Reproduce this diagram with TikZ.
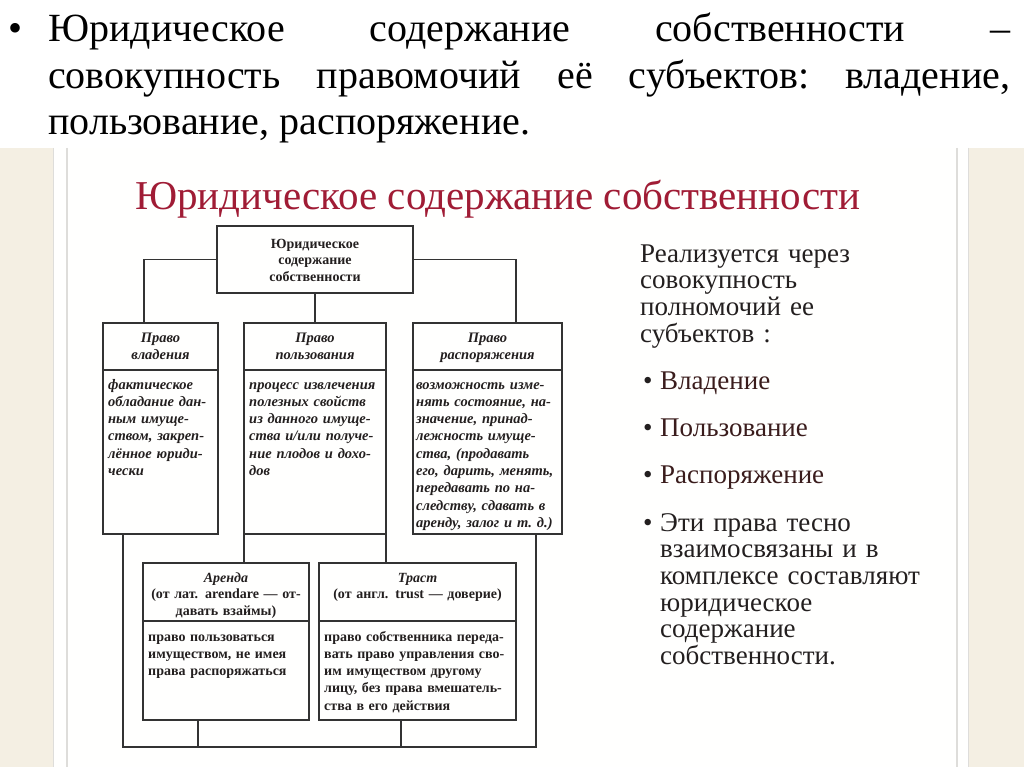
\documentclass[tikz,border=0pt]{standalone}
\usepackage{fontspec}
\setmainfont{Liberation Serif}
\definecolor{titlered}{HTML}{A01C35}
\definecolor{beige}{HTML}{F4EFE3}
\definecolor{grayline}{HTML}{DEDDDA}
\definecolor{linec}{HTML}{333333}
\definecolor{darktext}{HTML}{231F1F}
\definecolor{browntext}{HTML}{3A1C1C}
\tikzset{
  frame/.style={draw=linec, line width=1.3pt, inner sep=0pt, outer sep=0pt, anchor=north west},
  conn/.style={draw=linec, line width=1.3pt},
  toptext/.style={text width=190pt, align=center, anchor=base, inner sep=0pt, text=darktext,
     font=\bfseries\fontsize{14}{16.5}\selectfont},
  hdrtext/.style={text width=#1, align=center, anchor=base, inner sep=0pt, text=darktext,
     font=\bfseries\itshape\fontsize{14.5}{17}\selectfont},
  bodyit/.style={text width=170pt, align=left, anchor=base west, inner sep=0pt, text=darktext,
     font=\bfseries\itshape\fontsize{14.5}{17.3}\selectfont},
  hdrup/.style={text width=#1, align=center, anchor=base, inner sep=0pt, text=darktext,
     font=\bfseries\fontsize{14}{16.5}\selectfont},
  bodyup/.style={text width=220pt, align=left, anchor=base west, inner sep=0pt, text=darktext,
     font=\bfseries\fontsize{14}{17.3}\selectfont},
  bigtext/.style={anchor=base west, inner sep=0pt, font=\fontsize{40}{46}\selectfont, text=black},
  righttext/.style={text width=300pt, align=left, anchor=base west, inner sep=0pt,
     font=\fontsize{27}{26.7}\selectfont, text=darktext},
}
\begin{document}
\begin{tikzpicture}[x=1pt,y=-1pt]
\useasboundingbox (0,0) rectangle (1024,767);
\fill[white] (0,0) rectangle (1024,767);
% slide image background
\fill[beige] (0,148) rectangle (53,767);
\fill[beige] (968,148) rectangle (1024,767);
\draw[color=grayline, line width=1pt] (53,148) -- (53,767);
\draw[color=grayline, line width=1pt] (968,148) -- (968,767);
\fill[color=white!97!beige] (54,148) rectangle (967,767);
\draw[color=grayline, line width=2.5pt] (67,148) -- (67,767);
\draw[color=grayline, line width=2.5pt] (957,148) -- (957,767);

% heading text
\node[bigtext] (bul) at (8,42) {•};
\node[bigtext] (l1) at (48,42) {\hbox to 962pt{Юридическое\hfill содержание\hfill собственности\hfill –}};
\node[bigtext] (l2) at (48,89) {\hbox to 962pt{совокупность\hfill правомочий\hfill её\hfill субъектов:\hfill владение,}};
\node[bigtext] (l3) at (48,135) {пользование, распоряжение.};

% slide title
\node[anchor=base west, inner sep=0pt, font=\fontsize{41}{48}\selectfont, text=titlered] (title) at (135,210) {Юридическое содержание собственности};

% boxes
\node[frame, minimum width=196pt, minimum height=67pt] (top) at (217,226) {};
\node[frame, minimum width=115pt, minimum height=47pt] (h1) at (103,323) {};
\node[frame, minimum width=115pt, minimum height=164pt] (b1) at (103,370) {};
\node[frame, minimum width=142pt, minimum height=47pt] (h2) at (244,323) {};
\node[frame, minimum width=142pt, minimum height=164pt] (b2) at (244,370) {};
\node[frame, minimum width=149pt, minimum height=47pt] (h3) at (413,323) {};
\node[frame, minimum width=149pt, minimum height=164pt] (b3) at (413,370) {};
\node[frame, minimum width=166pt, minimum height=58pt] (ha) at (143,563) {};
\node[frame, minimum width=166pt, minimum height=99pt] (ba) at (143,621) {};
\node[frame, minimum width=197pt, minimum height=58pt] (ht) at (319,563) {};
\node[frame, minimum width=197pt, minimum height=99pt] (bt) at (319,621) {};

% box texts
\node[toptext] (topt) at (315,248) {Юридическое\\содержание\\собственности};
\node[hdrtext=113pt] (h1t) at (160.5,342) {Право\\владения};
\node[hdrtext=140pt] (h2t) at (315,342) {Право\\пользования};
\node[hdrtext=147pt] (h3t) at (487.5,342) {Право\\распоряжения};
\node[bodyit] (b1t) at (108,389) {фактическое\\обладание дан-\\ным имуще-\\ством, закреп-\\лённое юриди-\\чески};
\node[bodyit] (b2t) at (249,389) {процесс извлечения\\полезных свойств\\из данного имуще-\\ства и/или получе-\\ние плодов и дохо-\\дов};
\node[bodyit] (b3t) at (416,389) {возможность изме-\\нять состояние, на-\\значение, принад-\\лежность имуще-\\ства, (продавать\\его, дарить, менять,\\передавать по на-\\следству, сдавать в\\аренду, залог и т.~д.)};
\node[hdrup=164pt] (hat) at (226,582) {\textit{Аренда}\\(от лат. arendare — от-\\давать взаймы)};
\node[hdrup=195pt] (htt) at (417.5,582) {\textit{Траст}\\(от англ. trust — доверие)};
\node[bodyup] (bat) at (148,641) {право пользоваться\\имуществом, не имея\\права распоряжаться};
\node[bodyup] (btt) at (324,641) {право собственника переда-\\вать право управления сво-\\им имуществом другому\\лицу, без права вмешатель-\\ства в его действия};

% connectors
\coordinate (bus) at (320,747);
\draw[conn] (top.west) -| ([xshift=41pt]h1.north west);
\draw[conn] (top.east) -| ([xshift=-46pt]h3.north east);
\draw[conn] (top.south) -- (top.south |- h2.north);
\draw[conn] (b2.south west) -- (b2.south west |- ha.north);
\draw[conn] (b2.south east) -- (b2.south east |- ht.north);
\coordinate (c1) at ([xshift=20pt]b1.south west);
\coordinate (c3) at ([xshift=-26pt]b3.south east);
\draw[conn] (c1) |- (bus) -| (c3);
\coordinate (ca) at ([xshift=55pt]ba.south west);
\coordinate (ct) at ([xshift=82pt]bt.south west);
\draw[conn] (ca) -- (ca |- bus);
\draw[conn] (ct) -- (ct |- bus);

% right-hand text
\node[righttext] (rt1) at (640,262) {Реализуется через\\совокупность\\полномочий ее\\субъектов :};
\node[righttext, text width=20pt] (bu1) at (643,389) {•};
\node[righttext, text=browntext] (rt2) at (660,389) {Владение};
\node[righttext, text width=20pt] (bu2) at (643,436) {•};
\node[righttext, text=browntext] (rt3) at (660,436) {Пользование};
\node[righttext, text width=20pt] (bu3) at (643,483) {•};
\node[righttext, text=browntext] (rt4) at (660,483) {Распоряжение};
\node[righttext, text width=20pt] (bu4) at (643,531) {•};
\node[righttext] (rt5) at (660,531) {Эти права тесно\\взаимосвязаны и в\\комплексе составляют\\юридическое\\содержание\\собственности.};
\end{tikzpicture}
\end{document}
